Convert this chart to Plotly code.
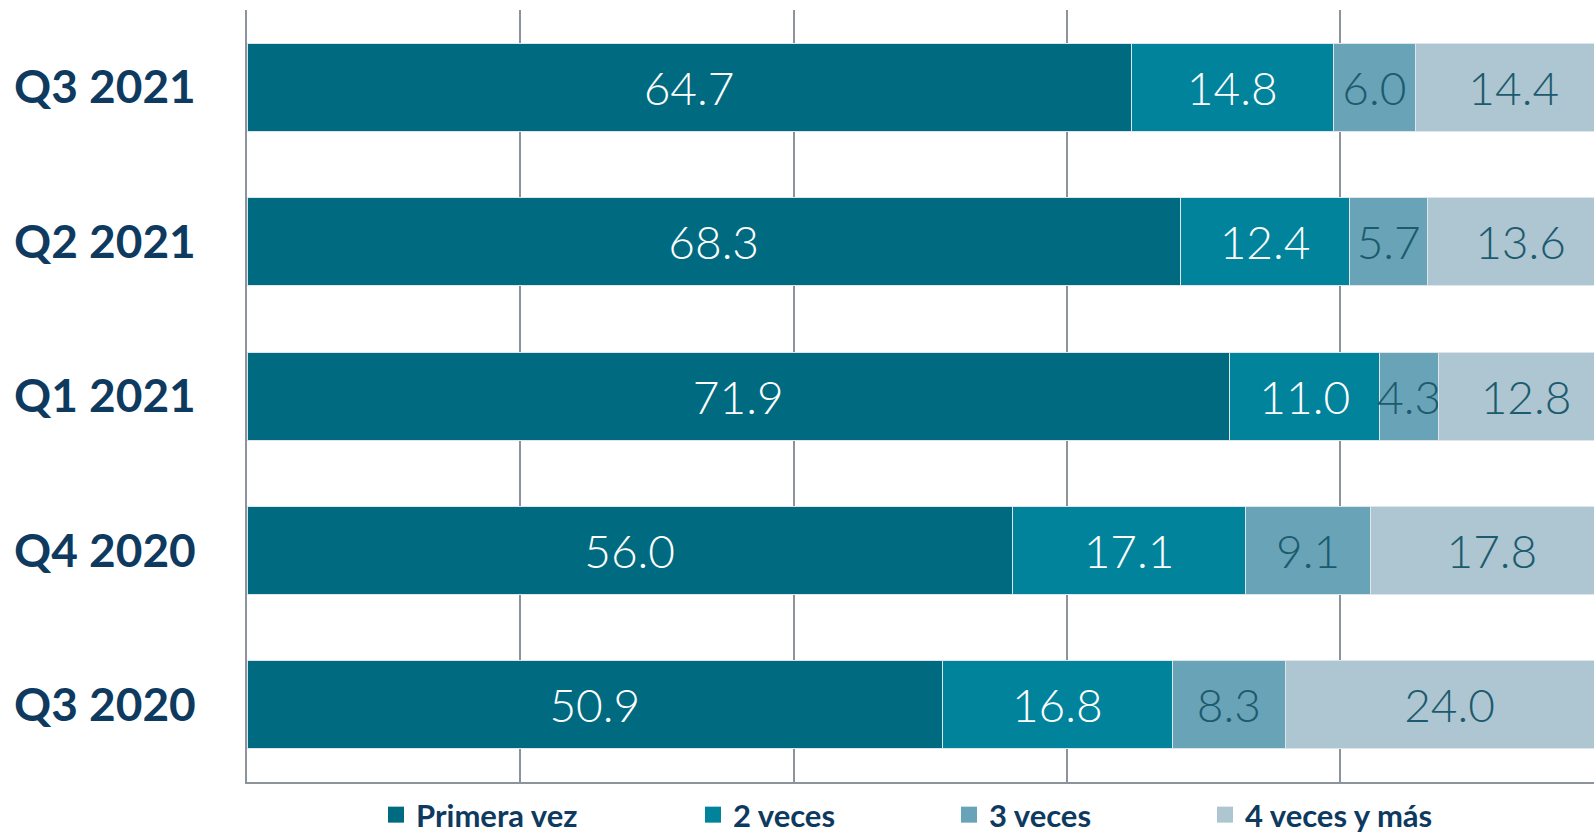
import plotly.graph_objects as go

categories = ["Q3 2021", "Q2 2021", "Q1 2021", "Q4 2020", "Q3 2020"]
series_names = ["Primera vez", "2 veces", "3 veces", "4 veces y más"]
primera_vez = [64.7, 68.3, 71.9, 56.0, 50.9]
dos_veces = [14.8, 12.4, 11.0, 17.1, 16.8]
tres_veces = [6.0, 5.7, 4.3, 9.1, 8.3]
cuatro_mas = [14.4, 13.6, 12.8, 17.8, 24.0]
series_values = [primera_vez, dos_veces, tres_veces, cuatro_mas]

colors = ["#006b80", "#00839b", "#69a3b7", "#aec6d2"]
text_colors = ["#ffffff", "#ffffff", "#1c5b6e", "#1c5b6e"]
navy = "#0e3a5f"

W, H = 1594, 836
L, T, B = 247, 10, 54
plot_w = W - L
px_per_pct = 13.665
xmax = plot_w / px_per_pct

fig = go.Figure()
for i, (name, vals) in enumerate(zip(series_names, series_values)):
    fig.add_trace(go.Bar(
        y=categories, x=vals, orientation="h", name=name,
        marker=dict(color=colors[i], line=dict(color="#dde6ea", width=1)),
        texttemplate="%{x:.1f}", textposition="inside", insidetextanchor="middle",
        textangle=0, constraintext="none",
        textfont=dict(family="Lato", size=46, color=text_colors[i], weight=300),
        showlegend=False, hoverinfo="skip",
    ))

legend_px = [388, 705, 961, 1217]
legend_names = ["legend", "legend2", "legend3", "legend4"]
for i, name in enumerate(series_names):
    fig.add_trace(go.Scatter(
        x=[None], y=[None], mode="markers", name=name,
        marker=dict(symbol="square", size=18, color=colors[i]),
        legend=legend_names[i], showlegend=True,
    ))

layout_legends = {}
for i, ln in enumerate(legend_names):
    layout_legends[ln] = dict(
        x=(legend_px[i] - L - 12) / plot_w, xanchor="left",
        y=(H - B - 815) / (H - T - B), yanchor="middle",
        orientation="h", itemsizing="trace",
        font=dict(family="Lato", size=31, color=navy, weight="bold"),
        bgcolor="rgba(0,0,0,0)", borderwidth=0, tracegroupgap=0,
    )

fig.update_layout(
    width=W, height=H, barmode="stack", bargap=0.43,
    margin=dict(l=L, r=0, t=T, b=B, pad=0, autoexpand=False),
    plot_bgcolor="white", paper_bgcolor="white",
    xaxis=dict(range=[0, xmax], dtick=20, tick0=0, showticklabels=False,
               showgrid=True, gridcolor="#8c939a", gridwidth=1.5,
               zeroline=False, showline=True, linecolor="#8c939a", linewidth=2,
               fixedrange=True),
    yaxis=dict(categoryorder="array", categoryarray=categories[::-1],
               showline=True, linecolor="#8c939a", linewidth=2,
               ticks="", ticklabelstandoff=40,
               tickfont=dict(family="Lato", size=46, color=navy, weight="bold"),
               showgrid=False, zeroline=False, fixedrange=True),
    **layout_legends,
)

fig.write_html("out.html")
